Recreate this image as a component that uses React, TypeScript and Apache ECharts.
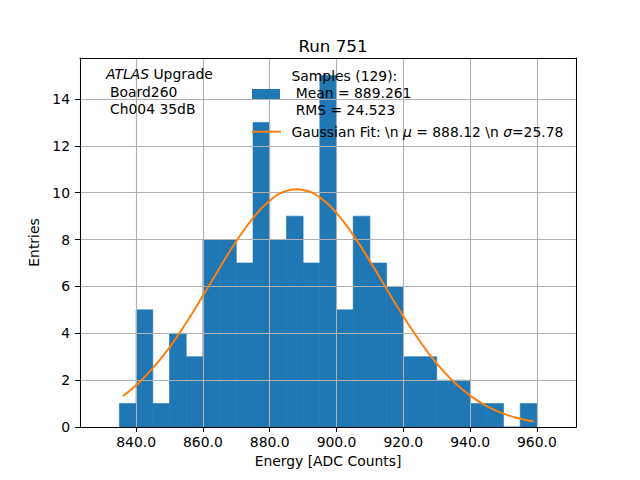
import React, { useEffect, useRef } from "react";
import * as echarts from "echarts";

const binLefts = [835, 840, 845, 850, 855, 860, 865, 870, 875, 880, 885, 890, 895, 900, 905, 910, 915, 920, 925, 930, 935, 940, 945, 950, 955];
const binWidth = 5;
const counts = [1, 5, 1, 4, 3, 8, 8, 7, 13, 8, 9, 7, 15, 5, 9, 7, 6, 3, 3, 2, 2, 1, 1, 0, 1];

const fitX = [836, 840, 845, 850, 855, 860, 865, 870, 875, 880, 885, 888, 890, 895, 900, 905, 910, 915, 920, 925, 930, 935, 940, 945, 950, 955, 959];
const fitY = [1.31, 1.78, 2.51, 3.4, 4.45, 5.6, 6.79, 7.93, 8.92, 9.66, 10.08, 10.15, 10.12, 9.8, 9.13, 8.19, 7.08, 5.89, 4.73, 3.65, 2.71, 1.94, 1.34, 0.89, 0.57, 0.35, 0.23];

const xMin = 823.2;
const xMax = 971.7;
const yMax = 15.75;

const FONT = "DejaVu Sans";
const FS = 13.9;

export default function App() {
  const ref = useRef<HTMLDivElement>(null);
  useEffect(() => {
    document.body.style.margin = "0";
    const chart = echarts.init(ref.current!, null, { renderer: "svg" });
    const histData = binLefts.map((l, i) => [l, l + binWidth, counts[i]]);
    const fitData = fitX.map((x, i) => [x, fitY[i]]);
    const hiddenAxisParts = {
      axisTick: { show: false },
      axisLabel: { show: false },
      splitLine: { show: false },
      axisLine: { show: true, onZero: false, lineStyle: { color: "#000", width: 1 } },
    };
    chart.setOption({
      animation: false,
      textStyle: { fontFamily: FONT },
      title: {
        text: "Run 751",
        left: 328,
        top: 32,
        textAlign: "center",
        textStyle: { fontFamily: FONT, fontSize: 16.7, fontWeight: "normal", color: "#000" },
      },
      grid: { left: 80, top: 58, width: 496, height: 369, containLabel: false },
      xAxis: [
        {
          type: "value",
          min: xMin,
          max: xMax,
          splitNumber: 7,
          position: "bottom",
          z: 2,
          axisLine: { show: true, onZero: false, lineStyle: { color: "#000", width: 1 } },
          axisTick: { show: true, length: 5, lineStyle: { color: "#000", width: 1 } },
          axisLabel: {
            formatter: (v: number) => v.toFixed(1),
            showMinLabel: false,
            showMaxLabel: false,
            color: "#000",
            fontFamily: FONT,
            fontSize: FS,
            margin: 8,
          },
          splitLine: { show: true, lineStyle: { color: "#b0b0b0", width: 1.1 } },
          name: "Energy [ADC Counts]",
          nameLocation: "middle",
          nameGap: 27,
          nameTextStyle: { color: "#000", fontFamily: FONT, fontSize: FS },
        },
        { type: "value", min: xMin, max: xMax, position: "top", z: 2, ...hiddenAxisParts },
      ],
      yAxis: [
        {
          type: "value",
          min: 0,
          max: yMax,
          interval: 2,
          position: "left",
          z: 2,
          axisLine: { show: true, onZero: false, lineStyle: { color: "#000", width: 1 } },
          axisTick: { show: true, length: 5, lineStyle: { color: "#000", width: 1 } },
          axisLabel: {
            showMaxLabel: false,
            color: "#000",
            fontFamily: FONT,
            fontSize: FS,
            margin: 10,
          },
          splitLine: { show: true, lineStyle: { color: "#b0b0b0", width: 1.1 } },
          name: "Entries",
          nameLocation: "middle",
          nameGap: 30,
          nameTextStyle: { color: "#000", fontFamily: FONT, fontSize: FS },
        },
        { type: "value", min: 0, max: yMax, position: "right", z: 2, ...hiddenAxisParts },
      ],
      series: [
        {
          type: "custom",
          xAxisIndex: 0,
          yAxisIndex: 0,
          z: 1,
          encode: { x: [0, 1], y: 2 },
          data: histData,
          renderItem: (params: any, api: any) => {
            const p0 = api.coord([api.value(0), api.value(2)]);
            const p1 = api.coord([api.value(1), 0]);
            return {
              type: "rect",
              shape: { x: p0[0], y: p0[1], width: p1[0] - p0[0], height: p1[1] - p0[1] },
              style: { fill: "#1f77b4", stroke: "#1f77b4", lineWidth: 0.6 },
            };
          },
        },
        {
          type: "line",
          xAxisIndex: 0,
          yAxisIndex: 0,
          z: 3,
          data: fitData,
          smooth: true,
          showSymbol: false,
          lineStyle: { color: "#ff7f0e", width: 2 },
        },
      ],
      graphic: [
        {
          type: "text",
          x: 106,
          y: 74,
          z: 10,
          style: {
            text: "{i|ATLAS} Upgrade",
            fontFamily: FONT,
            fontSize: FS,
            fill: "#000",
            verticalAlign: "middle",
            rich: { i: { fontStyle: "italic", fontFamily: FONT, fontSize: FS } },
          },
        },
        { type: "text", x: 110, y: 91.5, z: 10, style: { text: "Board260", fontFamily: FONT, fontSize: FS, fill: "#000", verticalAlign: "middle" } },
        { type: "text", x: 110, y: 108.5, z: 10, style: { text: "Ch004 35dB", fontFamily: FONT, fontSize: FS, fill: "#000", verticalAlign: "middle" } },
        { type: "rect", z: 10, shape: { x: 252, y: 89, width: 28, height: 10 }, style: { fill: "#1f77b4" } },
        { type: "text", x: 291.5, y: 75.5, z: 10, style: { text: "Samples (129):", fontFamily: FONT, fontSize: FS, fill: "#000", verticalAlign: "middle" } },
        { type: "text", x: 295.7, y: 92.5, z: 10, style: { text: "Mean = 889.261", fontFamily: FONT, fontSize: FS, fill: "#000", verticalAlign: "middle" } },
        { type: "text", x: 295.7, y: 109.5, z: 10, style: { text: "RMS = 24.523", fontFamily: FONT, fontSize: FS, fill: "#000", verticalAlign: "middle" } },
        { type: "line", z: 10, shape: { x1: 252, y1: 131.7, x2: 281, y2: 131.7 }, style: { stroke: "#ff7f0e", lineWidth: 2 } },
        {
          type: "text",
          x: 291.5,
          y: 131.5,
          z: 10,
          style: {
            text: "Gaussian Fit: \\n {i|μ} = 888.12 \\n {i|σ}=25.78",
            fontFamily: FONT,
            fontSize: FS,
            fill: "#000",
            verticalAlign: "middle",
            rich: { i: { fontStyle: "italic", fontFamily: FONT, fontSize: FS } },
          },
        },
      ],
    });
    return () => chart.dispose();
  }, []);
  return <div ref={ref} style={{ width: 640, height: 480 }} />;
}
